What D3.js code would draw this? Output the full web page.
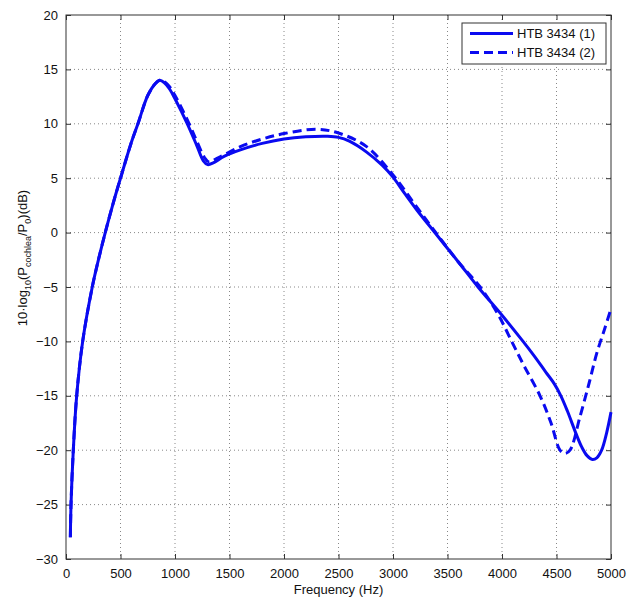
<!DOCTYPE html>
<html>
<head>
<meta charset="utf-8">
<script src="https://cdn.jsdelivr.net/npm/d3@7"></script>
<style>
  body { margin: 0; background: #fff; }
  svg { font-family: "Liberation Sans", Arial, sans-serif; }
</style>
</head>
<body>
<div id="chart"></div>
<script>
// Kurve 1: HTB 3434 (1) – Frequenz (Hz) / Pegel (dB)
var freq1 = [40, 46, 67, 98, 153, 241, 300, 360, 430, 500, 600, 660, 750, 820, 860, 900, 950, 1000, 1113, 1200, 1260, 1300, 1350, 1450, 1600, 1800, 2000, 2200, 2400, 2500, 2600, 2758, 2900, 3000, 3100, 3217, 3400, 3600, 3780, 4000, 4193, 4300, 4400, 4480, 4540, 4600, 4680, 4731, 4780, 4829, 4870, 4914, 4960, 5000];
var level1 = [-28, -25, -20, -15, -10, -5, -2.4, 0, 2.6, 5, 8.3, 10, 12.6, 13.7, 14.0, 13.8, 13.2, 12.3, 10, 8.0, 6.6, 6.25, 6.4, 7.0, 7.6, 8.2, 8.6, 8.8, 8.85, 8.75, 8.4, 7.4, 6.2, 5.1, 3.7, 2.1, -0.2, -2.7, -5, -7.6, -10, -11.4, -12.8, -13.9, -15.0, -16.4, -18.5, -19.7, -20.5, -20.85, -20.7, -20, -18.4, -16.5];

// Kurve 2: HTB 3434 (2)
var freq2 = [40, 46, 67, 98, 153, 241, 300, 360, 430, 500, 600, 660, 750, 820, 860, 900, 950, 1000, 1130, 1200, 1270, 1310, 1400, 1600, 1800, 2000, 2300, 2500, 2758, 3000, 3200, 3400, 3600, 3800, 3963, 4089, 4200, 4349, 4450, 4532, 4578, 4624, 4716, 4800, 4869, 4940, 5000];
var level2 = [-28, -25, -20, -15, -10, -5, -2.4, 0, 2.6, 5, 8.3, 10, 12.6, 13.7, 14.0, 13.9, 13.4, 12.6, 10, 8.4, 6.9, 6.5, 6.9, 7.9, 8.6, 9.1, 9.5, 9.15, 7.9, 5.3, 2.6, -0.1, -2.7, -5, -7.5, -10, -12.2, -15, -17.5, -20, -20.3, -20, -16.9, -13.8, -11.1, -8.9, -7];

var seriesNames = ["HTB 3434 (1)", "HTB 3434 (2)"];
var xTicks = [0, 500, 1000, 1500, 2000, 2500, 3000, 3500, 4000, 4500, 5000];
var yTicks = [-30, -25, -20, -15, -10, -5, 0, 5, 10, 15, 20];

var W = 627, H = 599;
var margin = { top: 15, right: 16, bottom: 40, left: 66 };
var w = W - margin.left - margin.right,
    h = H - margin.top - margin.bottom;
var blue = "#0a0af0";

var svg = d3.select("#chart").append("svg")
    .attr("width", W)
    .attr("height", H);

var g = svg.append("g")
    .attr("transform", `translate(${margin.left},${margin.top})`);

var x = d3.scaleLinear().domain([0, 5000]).range([0, w]);
var y = d3.scaleLinear().domain([-30, 20]).range([h, 0]);

// Gitterlinien (gepunktet)
g.append("g").selectAll("line")
    .data(xTicks.slice(1, -1))
    .enter().append("line")
    .attr("x1", d => x(d)).attr("x2", d => x(d))
    .attr("y1", 0).attr("y2", h)
    .style("stroke", "#888")
    .style("stroke-width", 1)
    .style("stroke-dasharray", "1,3");

g.append("g").selectAll("line")
    .data(yTicks.slice(1, -1))
    .enter().append("line")
    .attr("x1", 0).attr("x2", w)
    .attr("y1", d => y(d)).attr("y2", d => y(d))
    .style("stroke", "#888")
    .style("stroke-width", 1)
    .style("stroke-dasharray", "1,3");

// Achsen mit Ticks nach innen
g.append("g")
    .attr("transform", `translate(0,${h})`)
    .call(d3.axisBottom(x).tickValues(xTicks).tickSizeInner(-5).tickSizeOuter(0).tickPadding(10).tickFormat(d3.format("d")));
g.append("g")
    .call(d3.axisLeft(y).tickValues(yTicks).tickSizeInner(-5).tickSizeOuter(0).tickPadding(8).tickFormat(d3.format("d")));
g.append("g")
    .call(d3.axisTop(x).tickValues(xTicks).tickSizeInner(-5).tickSizeOuter(0).tickFormat(""));
g.append("g")
    .attr("transform", `translate(${w},0)`)
    .call(d3.axisRight(y).tickValues(yTicks).tickSizeInner(-5).tickSizeOuter(0).tickFormat(""));

g.selectAll(".domain").remove();
g.selectAll(".tick line").style("stroke", "#333");
g.selectAll(".tick text")
    .style("font-size", "13px")
    .style("fill", "#111")
    .style("font-family", "Liberation Sans, Arial, sans-serif");

g.append("rect")
    .attr("width", w).attr("height", h)
    .style("fill", "none")
    .style("stroke", "#333")
    .style("stroke-width", 1);

// Kurven
var line = d3.line()
    .x(d => x(d[0]))
    .y(d => y(d[1]))
    .curve(d3.curveCatmullRom.alpha(0.5));

g.append("path")
    .datum(d3.zip(freq1, level1))
    .attr("d", line)
    .style("fill", "none")
    .style("stroke", blue)
    .style("stroke-width", 3);

g.append("path")
    .datum(d3.zip(freq2, level2))
    .attr("d", line)
    .style("fill", "none")
    .style("stroke", blue)
    .style("stroke-width", 3)
    .style("stroke-dasharray", "9,5");

// Legende
var legend = g.append("g")
    .attr("transform", `translate(${w - 149},${8})`);
legend.append("rect")
    .attr("width", 144).attr("height", 41)
    .style("fill", "#fff")
    .style("stroke", "#333")
    .style("stroke-width", 1);

seriesNames.forEach(function(name, i) {
    var yy = 10.5 + i * 19;
    legend.append("line")
        .attr("x1", 8).attr("x2", 51)
        .attr("y1", yy).attr("y2", yy)
        .style("stroke", blue)
        .style("stroke-width", 3)
        .style("stroke-dasharray", i === 1 ? "9,5" : null);
    legend.append("text")
        .attr("x", 55).attr("y", yy)
        .attr("dy", "0.35em")
        .style("font-size", "13px")
        .style("fill", "#111")
        .text(name);
});

// Achsenbeschriftungen
svg.append("text")
    .attr("x", margin.left + w / 2)
    .attr("y", 594)
    .attr("text-anchor", "middle")
    .style("font-size", "13px")
    .style("fill", "#111")
    .text("Frequency (Hz)");

var yl = svg.append("text")
    .attr("transform", "translate(27,258) rotate(-90)")
    .attr("text-anchor", "middle")
    .style("font-size", "13px")
    .style("fill", "#111");
yl.append("tspan").text("10·log");
yl.append("tspan").attr("dy", "4").style("font-size", "9px").text("10");
yl.append("tspan").attr("dy", "-4").text("(P");
yl.append("tspan").attr("dy", "4").style("font-size", "9px").text("cochlea");
yl.append("tspan").attr("dy", "-4").text("/P");
yl.append("tspan").attr("dy", "4").style("font-size", "9px").text("0");
yl.append("tspan").attr("dy", "-4").text(")(dB)");
</script>
</body>
</html>
